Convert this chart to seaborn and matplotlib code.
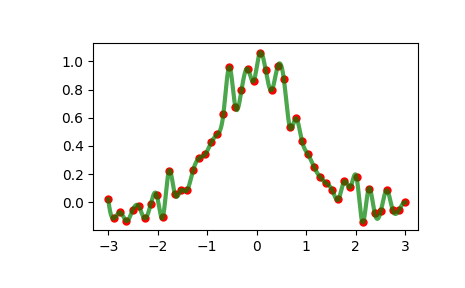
import numpy as np
import matplotlib
matplotlib.use("Agg")
import matplotlib.pyplot as plt
import seaborn as sns

# Data
x_vals = np.linspace(-3, 3, 50)
y_vals = [0.021, -0.113, -0.071, -0.133, -0.057, -0.026, -0.113, -0.014, 0.052, -0.106,
          0.220, 0.057, 0.085, 0.085, 0.227, 0.314, 0.340, 0.425, 0.482, 0.624,
          0.960, 0.674, 0.796, 0.948, 0.860, 1.057, 0.936, 0.796, 0.967, 0.872,
          0.532, 0.596, 0.433, 0.340, 0.248, 0.179, 0.135, 0.085, 0.021, 0.149,
          0.109, 0.179, -0.142, 0.096, -0.078, -0.064, 0.085, -0.057, -0.057, 0.000]
x_ticks = [-3, -2, -1, 0, 1, 2, 3]
y_ticks = [0.0, 0.2, 0.4, 0.6, 0.8, 1.0]


def cubic_spline(x, y, xs):
    x = np.asarray(x, float)
    y = np.asarray(y, float)
    n = len(x)
    h = np.diff(x)
    A = np.zeros((n, n))
    b = np.zeros(n)
    # not-a-knot end conditions
    A[0, 0] = h[1]
    A[0, 1] = -(h[0] + h[1])
    A[0, 2] = h[0]
    A[-1, -3] = h[-1]
    A[-1, -2] = -(h[-2] + h[-1])
    A[-1, -1] = h[-2]
    for i in range(1, n - 1):
        A[i, i - 1] = h[i - 1]
        A[i, i] = 2 * (h[i - 1] + h[i])
        A[i, i + 1] = h[i]
        b[i] = 6 * ((y[i + 1] - y[i]) / h[i] - (y[i] - y[i - 1]) / h[i - 1])
    M = np.linalg.solve(A, b)
    idx = np.clip(np.searchsorted(x, xs) - 1, 0, n - 2)
    x0, x1 = x[idx], x[idx + 1]
    hh = x1 - x0
    t0 = x1 - xs
    t1 = xs - x0
    return (M[idx] * t0 ** 3 / (6 * hh) + M[idx + 1] * t1 ** 3 / (6 * hh)
            + (y[idx] / hh - M[idx] * hh / 6) * t0
            + (y[idx + 1] / hh - M[idx + 1] * hh / 6) * t1)


xs = np.linspace(-3, 3, 1000)
ys = cubic_spline(x_vals, y_vals, xs)

fig = plt.figure(figsize=(4.65, 2.88), dpi=100)
ax = fig.add_axes([0.2007, 0.2014, 0.6989, 0.6483])

sns.scatterplot(x=x_vals, y=y_vals, color="red", s=36, linewidth=0, ax=ax, zorder=2)
sns.lineplot(x=xs, y=ys, color="green", lw=3, alpha=0.7, ax=ax, zorder=3)

ax.set_xlim(-3.303, 3.27)
ax.set_ylim(-0.196, 1.128)
ax.set_xticks(x_ticks)
ax.set_yticks(y_ticks)
ax.set_xticklabels([f"{t}" if t >= 0 else f"\u2212{abs(t)}" for t in x_ticks])
ax.set_yticklabels([f"{t:.1f}" for t in y_ticks])
ax.tick_params(labelsize=10)

fig.savefig("out.png", dpi=100)
